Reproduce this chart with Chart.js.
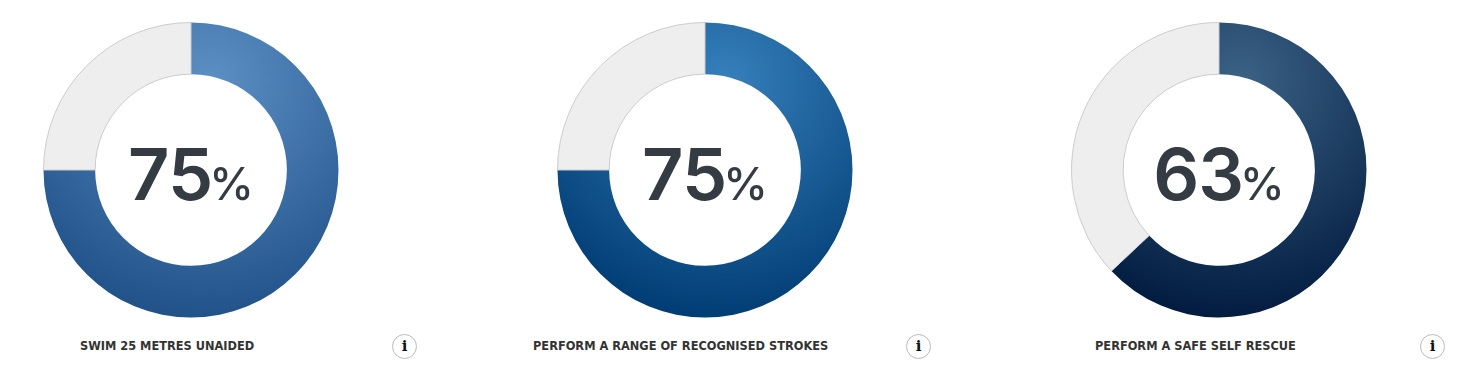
<!DOCTYPE html>
<html>
<head>
<meta charset="utf-8">
<title>Swimming outcomes</title>
<script src="https://cdn.jsdelivr.net/npm/chart.js@4"></script>
<style>
  html, body { margin: 0; padding: 0; background: #fff; }
  body { position: relative; width: 1463px; height: 376px; overflow: hidden; font-family: Inter, "Open Sans", sans-serif; }
  .ring { position: absolute; top: 21px; width: 298px; height: 298px; }
  .value { position: absolute; top: 135px; width: 298px; text-align: center; color: #343b43; font-size: 72px; line-height: 78px; font-weight: 600; letter-spacing: -1px; white-space: nowrap; }
  .value span { font-size: 45px; font-weight: 500; letter-spacing: 0; margin-left: -3px; }
  .label { position: absolute; top: 338px; color: #333; font: bold 11.4px/16px "DejaVu Sans", sans-serif; white-space: nowrap; }
  .info { position: absolute; top: 334px; width: 23px; height: 23px; border: 1px solid #bbb; border-radius: 50%; text-align: center; font: bold 15px/23px "DejaVu Serif", serif; color: #111; }
</style>
</head>
<body>
<script>
  const categories = ['SWIM 25 METRES UNAIDED', 'PERFORM A RANGE OF RECOGNISED STROKES', 'PERFORM A SAFE SELF RESCUE'];
  const achieved = [75, 75, 63];
  const remaining = [25, 25, 37];
  const lightColors = ['#5c8fc4', '#3680bb', '#3b6285'];
  const darkColors = ['#1f5188', '#003b73', '#001a3e'];
  const ringLefts = [42, 556, 1070];
  const labelLefts = [80, 533, 1095];
  const infoLefts = [392, 906, 1420];

  categories.forEach(function (name, i) {
    const holder = document.createElement('div');
    holder.className = 'ring';
    holder.style.left = ringLefts[i] + 'px';
    const canvas = document.createElement('canvas');
    holder.appendChild(canvas);
    document.body.appendChild(holder);

    const value = document.createElement('div');
    value.className = 'value';
    value.style.left = ringLefts[i] + 'px';
    value.innerHTML = achieved[i] + '<span>%</span>';
    document.body.appendChild(value);

    const label = document.createElement('div');
    label.className = 'label';
    label.style.left = labelLefts[i] + 'px';
    label.textContent = name;
    document.body.appendChild(label);

    const info = document.createElement('div');
    info.className = 'info';
    info.style.left = infoLefts[i] + 'px';
    info.textContent = 'i';
    document.body.appendChild(info);

    new Chart(canvas, {
      type: 'doughnut',
      data: {
        labels: ['Achieved', 'Remaining'],
        datasets: [{
          data: [achieved[i], remaining[i]],
          backgroundColor: function (ctx) {
            if (ctx.dataIndex === 1) return '#eeeeee';
            const area = ctx.chart.chartArea;
            if (!area) return lightColors[i];
            const cx = (area.left + area.right) / 2;
            const cy = (area.top + area.bottom) / 2;
            // highlight sits up and to the right of the ring centre
            const g = ctx.chart.ctx.createRadialGradient(cx + 20, cy - 90, 0, cx + 20, cy - 90, 245);
            g.addColorStop(0, lightColors[i]);
            g.addColorStop(1, darkColors[i]);
            return g;
          },
          borderColor: ['rgba(0,0,0,0)', '#cccccc'],
          borderWidth: [0, 1],
        }],
      },
      options: {
        responsive: true,
        maintainAspectRatio: false,
        animation: false,
        radius: 147.5,
        cutout: 96.5,
        plugins: {
          legend: { display: false },
          tooltip: { enabled: false },
        },
      },
    });
  });
</script>
</body>
</html>
